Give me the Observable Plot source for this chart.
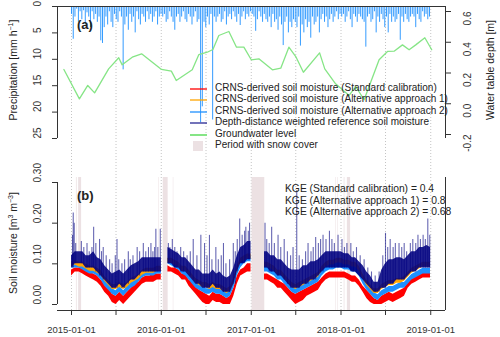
<!DOCTYPE html>
<html><head><meta charset="utf-8">
<script src="https://cdn.jsdelivr.net/npm/d3@7"></script>
<script src="https://cdn.jsdelivr.net/npm/@observablehq/plot@0.6"></script>
<style>
body{margin:0;background:#fff;font-family:"Liberation Sans",Arial,sans-serif;color:#222;}
#wrap{position:relative;width:500px;height:337px;overflow:hidden;}
#wrap svg{position:absolute;left:0;top:0;}
.t{position:absolute;white-space:nowrap;font-size:10px;line-height:1;}
.rot{transform:translate(-50%,-50%) rotate(-90deg);}
.leg{position:absolute;left:190px;font-size:10px;line-height:1;white-space:nowrap;}
.leg .sw{position:absolute;left:0;width:17px;height:2px;}
.leg .lb{position:absolute;left:25px;top:-6px;}
sup{font-size:7px;vertical-align:4px;line-height:0;}
</style></head><body><div id="wrap"></div>
<script>
// ---------- DATA ----------
// soil moisture samples (semi-monthly), null row = data gap
const smDates = ["2015-01-01","2015-01-16","2015-02-01","2015-02-16","2015-03-01","2015-03-16","2015-04-01","2015-04-16","2015-05-01","2015-05-16","2015-06-01","2015-06-16","2015-07-01","2015-07-16","2015-08-01","2015-08-16","2015-09-01","2015-09-16","2015-10-01","2015-10-16","2015-11-01","2015-11-16","2015-12-01","2015-12-16","2016-01-01",
"2016-01-15",
"2016-01-28","2016-02-12","2016-02-26","2016-03-12","2016-03-26","2016-04-09","2016-04-23","2016-05-07","2016-05-21","2016-06-04","2016-06-18","2016-07-02","2016-07-16","2016-07-30","2016-08-13","2016-08-27","2016-09-10","2016-09-24","2016-10-08","2016-10-22","2016-11-05","2016-11-19","2016-12-03","2016-12-17","2016-12-31",
"2017-01-20",
"2017-02-24","2017-03-08","2017-03-22","2017-04-05","2017-04-19","2017-05-03","2017-05-17","2017-06-01","2017-06-16","2017-07-01","2017-07-16","2017-08-01","2017-08-16","2017-09-01","2017-09-16","2017-10-01","2017-10-16","2017-11-01","2017-11-16","2017-12-01","2017-12-16",
"2018-01-01","2018-01-16","2018-02-01","2018-02-16","2018-03-01","2018-03-16","2018-04-01","2018-04-16","2018-05-01","2018-05-16","2018-06-01","2018-06-16","2018-07-01","2018-07-16","2018-08-01","2018-08-16","2018-09-01","2018-09-16","2018-10-01","2018-10-16","2018-11-01","2018-11-16","2018-12-01","2018-12-16","2018-12-31"];
const navyLo = [.09,.10,.10,.10,.09,.09,.09,.08,.07,.06,.05,.04,.04,.05,.04,.05,.06,.06,.07,.08,.08,.08,.08,.08,.08,
null,
.10,.10,.09,.09,.08,.08,.07,.06,.05,.05,.04,.04,.04,.05,.04,.04,.03,.03,.03,.05,.08,.10,.10,.11,.11,
null,
.09,.09,.08,.08,.07,.07,.06,.05,.04,.04,.04,.05,.05,.06,.06,.07,.08,.09,.09,.09,.09,
.09,.09,.09,.08,.08,.07,.06,.05,.04,.03,.03,.04,.04,.05,.05,.06,.06,.06,.07,.08,.08,.09,.09,.09,.09];
const navyHi = [.12,.13,.13,.13,.12,.12,.13,.115,.11,.095,.085,.075,.08,.085,.075,.085,.095,.10,.105,.115,.115,.115,.115,.115,.115,
null,
.14,.135,.13,.125,.115,.115,.105,.095,.085,.085,.075,.075,.075,.085,.075,.08,.07,.065,.07,.09,.12,.14,.145,.155,.155,
null,
.13,.13,.12,.12,.11,.11,.10,.09,.085,.085,.085,.095,.095,.105,.105,.11,.12,.13,.13,.13,.13,
.13,.125,.125,.115,.115,.105,.095,.08,.07,.055,.055,.085,.10,.11,.11,.115,.115,.11,.12,.13,.13,.14,.14,.145,.14];
const orange = [.10,.105,.10,.10,.095,.09,.09,.085,.08,.065,.055,.045,.045,.05,.045,.05,.06,.065,.07,.08,.085,.085,.085,.09,.09,
null,
.11,.11,.105,.10,.09,.09,.08,.07,.06,.055,.05,.05,.045,.05,.045,.045,.04,.035,.04,.06,.09,.11,.115,.12,.12,
null,
.10,.10,.095,.09,.08,.08,.07,.06,.05,.045,.05,.055,.06,.065,.07,.075,.09,.10,.105,.105,.11,
.11,.105,.105,.10,.10,.09,.07,.055,.045,.035,.035,.045,.05,.055,.055,.06,.06,.065,.075,.085,.09,.095,.10,.10,.10];
const blue = [.10,.10,.10,.095,.09,.085,.085,.08,.07,.055,.045,.035,.03,.04,.03,.04,.05,.055,.065,.075,.08,.08,.08,.085,.085,
null,
.11,.105,.10,.095,.085,.08,.07,.06,.05,.045,.04,.035,.035,.04,.035,.035,.03,.025,.03,.05,.08,.10,.11,.115,.115,
null,
.09,.09,.085,.08,.07,.07,.06,.05,.04,.035,.04,.045,.05,.055,.06,.065,.08,.09,.095,.095,.10,
.10,.095,.095,.09,.09,.08,.06,.045,.035,.025,.02,.03,.035,.04,.04,.045,.05,.05,.06,.07,.075,.08,.085,.085,.085];
const redLo = [.07,.08,.08,.075,.07,.065,.06,.055,.045,.03,.02,.005,0,.01,0,.01,.02,.03,.04,.05,.055,.055,.055,.06,.06,
null,
.08,.08,.075,.07,.06,.06,.045,.035,.025,.015,.005,0,0,.01,.005,.005,0,0,0,.02,.05,.07,.075,.08,.08,
null,
.06,.06,.055,.05,.04,.04,.03,.02,.01,0,.005,.01,.02,.025,.03,.035,.05,.06,.065,.065,.065,
.065,.065,.06,.055,.055,.045,.03,.015,.005,0,0,0,.005,.01,.005,.01,.015,.02,.04,.05,.055,.06,.065,.065,.065];
const redHi = [.085,.09,.09,.09,.085,.08,.075,.07,.06,.05,.04,.025,.02,.03,.02,.03,.04,.05,.055,.065,.07,.07,.075,.075,.075,
null,
.095,.09,.09,.085,.075,.075,.06,.055,.045,.035,.03,.025,.02,.03,.025,.025,.02,.015,.02,.04,.07,.085,.09,.10,.10,
null,
.075,.075,.07,.065,.06,.055,.05,.04,.03,.025,.03,.035,.04,.045,.05,.055,.065,.075,.08,.08,.08,
.08,.08,.075,.07,.07,.06,.045,.035,.025,.015,.01,.02,.025,.03,.025,.03,.035,.04,.055,.065,.07,.075,.08,.08,.08];
// navy reference spikes (peak values)
const spikeDates = ["2015-01-05","2015-01-08","2015-01-12","2015-01-18","2015-02-10","2015-02-20","2015-03-05","2015-03-14","2015-03-25","2015-04-01","2015-04-10","2015-04-25","2015-05-03","2015-05-10","2015-05-22","2015-06-05","2015-06-15","2015-06-28","2015-07-05","2015-07-12","2015-07-25","2015-08-05","2015-08-20","2015-08-28","2015-09-08","2015-09-25","2015-10-05","2015-10-20","2015-10-30","2015-11-10","2015-11-20","2015-11-28","2015-12-05","2015-12-10","2015-12-18","2015-12-28",
"2016-01-30","2016-02-05","2016-02-15","2016-02-25","2016-03-05","2016-03-20","2016-04-01","2016-04-15","2016-04-28","2016-05-10","2016-05-25","2016-06-10","2016-06-25","2016-07-05","2016-07-15","2016-07-25","2016-08-10","2016-08-20","2016-09-01","2016-09-10","2016-09-20","2016-10-05","2016-10-20","2016-10-28","2016-11-05","2016-11-15","2016-11-25","2016-12-05","2016-12-10","2016-12-20","2016-12-25",
"2017-02-26","2017-03-05","2017-03-15","2017-03-25","2017-04-05","2017-04-20","2017-05-01","2017-05-15","2017-05-28","2017-06-10","2017-06-20","2017-07-05","2017-07-15","2017-07-28","2017-08-10","2017-08-20","2017-09-01","2017-09-10","2017-09-20","2017-10-01","2017-10-10","2017-10-20","2017-11-01","2017-11-15","2017-11-25","2017-12-05","2017-12-20",
"2018-01-05","2018-01-15","2018-01-25","2018-02-10","2018-02-20","2018-03-05","2018-03-20","2018-04-05","2018-04-20","2018-05-05","2018-05-20","2018-06-05","2018-06-20","2018-07-01","2018-07-10","2018-07-20","2018-08-01","2018-08-10","2018-08-25","2018-09-05","2018-09-15","2018-09-25","2018-10-10","2018-10-20","2018-11-01","2018-11-10","2018-11-20","2018-12-01","2018-12-10","2018-12-20","2018-12-28"];
const spikeValues = [.17,.225,.20,.15,.155,.14,.15,.13,.14,.19,.15,.16,.13,.14,.12,.11,.10,.12,.16,.11,.10,.11,.13,.11,.12,.14,.13,.15,.13,.14,.15,.13,.14,.185,.14,.185,
.15,.14,.16,.14,.13,.14,.13,.12,.13,.16,.12,.17,.15,.12,.17,.11,.14,.11,.12,.15,.10,.11,.15,.13,.16,.21,.17,.18,.19,.18,.20,
.20,.16,.15,.19,.15,.17,.14,.16,.13,.12,.14,.28,.12,.11,.13,.15,.13,.14,.165,.15,.16,.17,.16,.18,.16,.15,.17,
.16,.14,.15,.15,.13,.14,.12,.11,.09,.08,.07,.08,.12,.175,.14,.16,.14,.15,.15,.14,.15,.13,.15,.16,.15,.17,.16,.17,.16,.21,.17];
// snow cover periods
const snowStart = ["2015-01-21","2015-01-30","2015-12-22","2016-01-09","2016-02-19","2017-01-04","2017-12-10","2017-12-18","2018-01-14","2018-01-27"];
const snowEnd   = ["2015-01-23","2015-02-10","2015-12-23","2016-01-28","2016-02-20","2017-02-24","2017-12-11","2017-12-19","2018-01-16","2018-02-08"];
// precipitation (weekly max hourly, mm/h) starting 2015-01-01
const precipStart = "2015-01-01";
const precip = [1.5,6.2,2.0,0.5,3.0,1.0,2.5,0.8,3.5,1.2,2.0,4.0,1.0,2.5,
1.5,3.0,2.0,6.5,7.0,4.0,2.0,3.5,1.0,
3.0,4.0,1.5,2.5,3.0,1.0,2.0,12.0,3.5,
2.0,4.5,1.5,3.0,2.0,5.0,1.0,2.5,3.5,
1.5,2.0,3.0,1.0,2.5,1.5,3.0,2.0,1.0,3.5,2.0,1.5,
2.0,1.5,3.0,2.5,1.0,2.0,3.0,4.5,2.0,1.5,3.0,2.0,1.0,2.5,
3.0,1.5,2.0,3.5,2.0,1.0,3.0,2.5,22.0,
19.0,3.0,4.0,2.0,3.5,1.5,21.5,2.0,3.0,
2.0,1.5,3.0,2.5,1.0,3.5,2.0,1.5,2.5,1.0,2.0,3.0,1.5,3.6,2.0,1.0,2.5,1.5,2.0,1.0,
1.5,2.0,4.7,2.5,1.0,2.0,3.0,1.5,2.5,3.0,2.0,4.0,1.5,3.0,2.5,4.5,2.0,3.5,7.4,3.0,2.0,5.0,3.0,
4.0,2.5,3.0,4.0,2.0,7.5,3.5,5.0,2.5,4.0,3.0,6.0,2.0,3.5,3.0,2.0,5.0,2.5,1.5,3.0,2.0,4.0,2.5,1.5,3.0,2.0,1.0,2.5,1.5,
2.0,1.5,3.0,2.0,1.0,2.5,4.0,1.5,2.0,3.0,1.5,2.0,2.5,3.0,7.7,2.0,1.5,3.0,2.5,1.0,5.0,2.0,3.0,1.5,2.5,4.0,2.0,5.0,1.5,3.0,2.0,3.0,2.5,1.5,6.4,2.0,3.0,1.5,2.5,3.0,2.0,1.5,2.0,4.0,1.5,2.5,3.0,1.0,2.0,1.5,2.5,2.0];
// groundwater (water table depth, m)
const gwDates = ["2014-12-01","2015-02-02","2015-03-08","2015-04-05","2015-06-01","2015-07-12","2015-07-26","2015-09-05","2015-10-13","2016-01-02","2016-02-11","2016-03-02","2016-05-06","2016-06-02","2016-07-06","2016-07-29","2016-08-22","2016-10-02","2016-11-02","2016-12-02","2017-01-01","2017-02-01","2017-03-28","2017-05-01","2017-06-03","2017-07-01","2017-08-01","2017-10-06","2017-10-27","2017-12-10","2018-02-03","2018-03-02","2018-04-05","2018-06-05","2018-07-09","2018-08-05","2018-09-08","2018-10-05","2018-11-01","2018-12-08","2019-01-05"];
const gwValues = [0.223,0.032,0.119,0.071,0.227,0.299,0.253,0.303,0.325,0.223,0.212,0.151,0.221,0.320,0.335,0.353,0.444,0.470,0.368,0.368,0.286,0.292,0.221,0.231,0.368,0.307,0.205,0.331,0.227,0.130,0.054,0.112,0.026,0.286,0.340,0.342,0.383,0.351,0.383,0.429,0.351];
const kgeLabels = ["KGE (Standard calibration) = 0.4","KGE (Alternative approach 1) = 0.8","KGE (Alternative approach 2) = 0.68"];
const xTickLabels = ["2015-01-01","2016-01-01","2017-01-01","2018-01-01","2019-01-01"];

// ---------- BUILD ----------
const P = d3.utcParse("%Y-%m-%d");
const W = 500, H = 337, ML = 57, MR = 55;
const FONT = '"Liberation Sans", Arial, sans-serif';
const AX = "#333";
const xDomain = [P("2014-11-05"), P("2019-03-02")];
const halfYears = d3.utcMonth.every(6).range(P("2015-01-01"), P("2019-01-02"));
const style = {background: "transparent", fontFamily: FONT, fontSize: "10px", color: AX};

const soil = smDates.map((d, i) => ({date: P(d), nLo: navyLo[i], nHi: navyHi[i], o: orange[i], b: blue[i], rLo: redLo[i], rHi: redHi[i]}));
const valid = soil.filter(d => d.nLo != null);
const bis = d3.bisector(d => d.date).center;
const spikes = spikeDates.map((d, i) => {const dt = P(d); const s = valid[bis(valid, dt)]; return {date: dt, v: spikeValues[i], base: s.nLo};});
const snow = snowStart.map((d, i) => ({s: P(d), e: d3.utcDay.offset(P(snowEnd[i]), 1)}));
const p0 = P(precipStart);
const rain = precip.map((v, i) => ({date: d3.utcDay.offset(p0, 7 * i), v}));
const gw = gwDates.map((d, i) => ({date: P(d), v: gwValues[i]}));

const wrap = document.getElementById("wrap");
const add = (p) => wrap.appendChild(p);

// grid (dotted verticals through both panels)
add(Plot.plot({width: W, height: H, marginLeft: ML, marginRight: MR, marginTop: 6, marginBottom: 27, style,
  x: {type: "utc", domain: xDomain, axis: null}, y: {domain: [0, 1], axis: null},
  marks: [Plot.ruleX(halfYears, {stroke: "#c4c4c4", strokeDasharray: "1,2", strokeWidth: 1})]}));

// bottom panel
const yB = [-0.01475, 0.3123];
const sOff = (v, k) => v == null ? null : v + k;
add(Plot.plot({width: W, height: H, marginLeft: ML, marginRight: MR, marginTop: 177, marginBottom: 27, style,
  x: {type: "utc", domain: xDomain, label: null}, y: {domain: yB, label: null},
  marks: [
    Plot.rect(snow, {x1: "s", x2: "e", y1: () => yB[0], y2: () => yB[1], fill: "#ece1e3"}),
    Plot.areaY(soil, {x: "date", y1: "rLo", y2: "rHi", fill: "#ff0000"}),
    Plot.areaY(soil, {x: "date", y1: d => sOff(d.b, -0.01), y2: d => sOff(d.b, 0.004), fill: "#1e90ff"}),
    Plot.areaY(soil, {x: "date", y1: d => sOff(d.o, -0.008), y2: d => sOff(d.o, 0.004), fill: "#ffa500"}),
    Plot.ruleX(spikes, {x: "date", y1: "base", y2: "v", stroke: "#000080", strokeOpacity: 0.6, strokeWidth: 1.1}),
    Plot.areaY(soil, {x: "date", y1: "nLo", y2: "nHi", fill: "#000080", fillOpacity: 0.88}),
    Plot.ruleY([yB[0]], {stroke: AX}),
    Plot.ruleX([xDomain[1]], {y1: yB[0], y2: yB[1], stroke: AX}),
    Plot.ruleX([xDomain[0]], {y1: 0, y2: 0.3, stroke: AX}),
    Plot.axisY({ticks: [0, 0.1, 0.2, 0.3], tickSize: 5, tickFormat: () => "", label: null, stroke: AX}),
    Plot.text([0, 0.1, 0.2, 0.3], {y: d => d, text: d => d.toFixed(2), frameAnchor: "left", dx: -20, rotate: -90, fontSize: 10, fill: AX}),
    Plot.axisX({ticks: halfYears, tickSize: 5, tickPadding: 11, fontSize: 9.5, stroke: AX, label: null,
      tickFormat: d => { const s = d3.utcFormat("%Y-%m-%d")(d); return xTickLabels.includes(s) ? s : ""; }})
  ]}));

// top panel: precipitation
add(Plot.plot({width: W, height: H, marginLeft: ML, marginRight: MR, marginTop: 6, marginBottom: 199, style,
  x: {type: "utc", domain: xDomain, axis: null}, y: {domain: [0, 25], reverse: true, label: null},
  marks: [
    Plot.ruleX(rain, {x: "date", y1: 0, y2: "v", stroke: "#1e90ff", strokeOpacity: 0.9, strokeWidth: 1}),
    Plot.ruleY([0], {stroke: AX}),
    Plot.ruleX([xDomain[0]], {y1: 0, y2: 25, stroke: AX}),
    Plot.ruleX([xDomain[1]], {y1: 0, y2: 25, stroke: AX}),
    Plot.axisY({ticks: [0, 5, 10, 15, 20, 25], tickSize: 5, tickFormat: () => "", label: null, stroke: AX}),
    Plot.text([0, 5, 10, 15, 20, 25], {y: d => d, text: d => String(d), frameAnchor: "left", dx: -20, rotate: -90, fontSize: 10, fill: AX})
  ]}));

// top panel: groundwater (right axis)
add(Plot.plot({width: W, height: H, marginLeft: ML, marginRight: MR, marginTop: 11, marginBottom: 203, style,
  x: {type: "utc", domain: xDomain, axis: null}, y: {domain: [-0.2, 0.6], label: null},
  marks: [
    Plot.line(gw, {x: "date", y: "v", stroke: "#86e586", strokeWidth: 1.3}),
    Plot.axisY({anchor: "right", ticks: [-0.2, 0, 0.2, 0.4, 0.6], tickSize: 5, tickFormat: () => "", label: null, stroke: AX}),
    Plot.text([-0.2, 0, 0.2, 0.4, 0.6], {y: d => d, text: d => d.toFixed(1), frameAnchor: "right", dx: 22, rotate: -90, fontSize: 10, fill: AX})
  ]}));

// ---------- HTML text overlays ----------
function txt(html, css, cls) { const e = document.createElement("div"); e.className = "t " + (cls || ""); e.innerHTML = html; Object.assign(e.style, css); wrap.appendChild(e); return e; }
txt("Precipitation [mm h<sup>&minus;1</sup>]", {left: "13px", top: "70px", fontSize: "10.5px"}, "rot");
txt("Water table depth [m]", {left: "490px", top: "70px", fontSize: "10.5px"}, "rot");
txt("Soil moisture [m<sup>3</sup> m<sup>&minus;3</sup>]", {left: "13px", top: "243px", fontSize: "10.5px"}, "rot");
txt("(a)", {left: "77px", top: "18px", fontSize: "13px", fontWeight: "bold"});
txt("(b)", {left: "77px", top: "189px", fontSize: "13px", fontWeight: "bold"});
kgeLabels.forEach((s, i) => txt(s, {left: "285px", top: (184 + i * 11.5) + "px", fontSize: "10.3px"}));

const legItems = [
  {label: "CRNS-derived soil moisture (Standard calibration)", color: "rgba(255,0,0,0.65)"},
  {label: "CRNS-derived soil moisture (Alternative approach 1)", color: "rgba(255,165,0,0.65)"},
  {label: "CRNS-derived soil moisture (Alternative approach 2)", color: "rgba(30,144,255,0.65)"},
  {label: "Depth-distance weighted reference soil moisture", color: "rgba(0,0,128,0.55)"},
  {label: "Groundwater level", color: "#86e586"},
  {label: "Period with snow cover", snow: true}
];
legItems.forEach((it, i) => {
  const row = document.createElement("div"); row.className = "leg"; row.style.top = (89 + i * 11.45) + "px";
  const sw = document.createElement("div"); sw.className = "sw";
  if (it.snow) { Object.assign(sw.style, {left: "3px", width: "10px", height: "10px", top: "-5px", background: "#ece1e3"}); }
  else { sw.style.background = it.color; sw.style.top = "-1px"; }
  const lb = document.createElement("div"); lb.className = "lb"; lb.textContent = it.label;
  row.appendChild(sw); row.appendChild(lb); wrap.appendChild(row);
});
</script></body></html>
